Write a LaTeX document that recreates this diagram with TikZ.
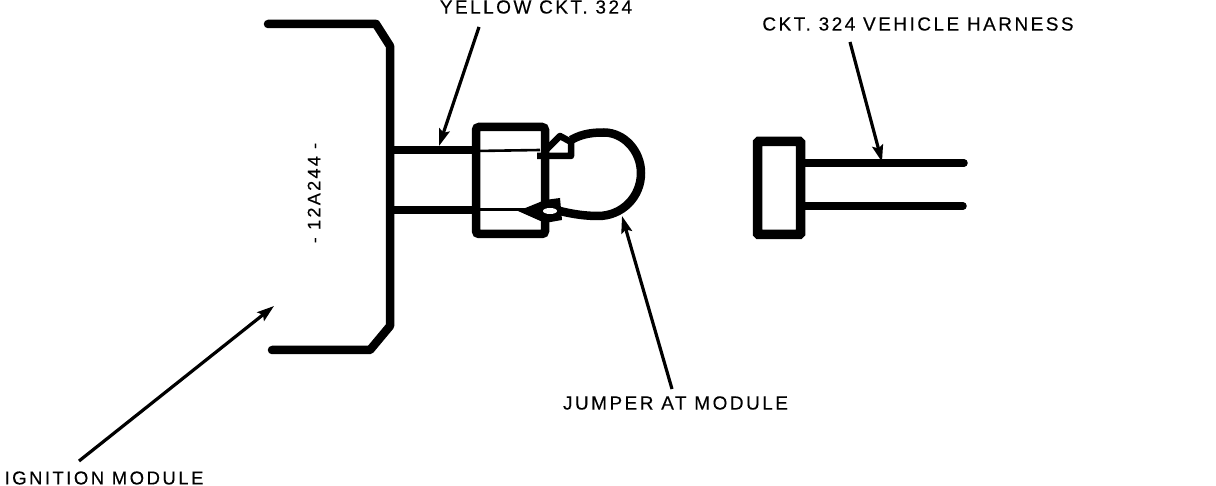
\documentclass[tikz,border=0pt]{standalone}
\usepackage{fontspec}
\setmainfont[LetterSpace=13,FakeBold=0.25]{Liberation Sans}
\usetikzlibrary{arrows.meta}
\tikzset{
  x=1pt,y=-1pt,
  heavy/.style={line width=8.5pt,line join=round,line cap=round},
  wire/.style={line width=7.5pt,line join=round,line cap=round},
  lead/.style={line width=3.2pt,-{Stealth[length=17pt,width=11pt,inset=3pt]}},
  lab/.style={inner sep=0pt,font=\fontsize{19}{19}\selectfont,text=black},
}
\begin{document}
\begin{tikzpicture}
\useasboundingbox (0,0) rectangle (1216,486);
% module housing
\draw[heavy] (268,24) -- (376,24) -- (390,46) -- (390,326) -- (370,350) -- (272,350);
\draw[wire,line cap=butt] (390,150) -- (476,150);
\draw[wire,line cap=butt] (390,210) -- (476,210);
% connector body
\draw[line width=2.6pt] (476,151) -- (540,150);
\draw[line width=2.6pt] (476,209.5) -- (525,209.5);
% terminals
\draw[line width=6.5pt,line join=round] (537,156) -- (571,156) -- (571,142) -- (560,136) -- (545,151);
\fill (518,211) -- (545,200) -- (560,198) -- (562,220) -- (545,223) -- cycle;
% jumper loop
\draw[wire,line width=8.5pt,line cap=butt] (571,140) .. controls (583,133) and (595,132.5) .. (604,132.5)
  .. controls (624,132.5) and (641,151) .. (641,173)
  .. controls (641,197) and (622,216) .. (598,216)
  .. controls (585,216) and (572,214) .. (560,211);
\node[draw,line width=8.5pt,rounded corners=3pt,minimum width=69pt,minimum height=107pt,inner sep=0pt] (plug) at (510.5,180.5) {};
\fill[white] (550,211) ellipse [x radius=7pt,y radius=3pt];
% harness connector
\node[draw,line width=9.5pt,rounded corners=1pt,minimum width=43pt,minimum height=93pt,inner sep=0pt] (socket) at (779,188) {};
\draw[wire] (socket.east |- 0,163) -- (964,163);
\draw[wire] (socket.east |- 0,206) -- (963,206);
% labels
\node[lab] (yellow) at (536,7) {YELLOW CKT. 324};
\node[lab] (harness) at (918,24) {CKT. 324 VEHICLE HARNESS};
\node[lab] (jumper) at (675.5,403) {JUMPER AT MODULE};
\node[lab,font=\fontsize{18.6}{19}\selectfont] (ignition) at (104,478) {IGNITION MODULE};
\node[lab,rotate=90,font=\fontsize{18}{18}\selectfont] (part) at (314,193) {- 12A244 -};
% leaders
\coordinate (a1s) at (479,27); \coordinate (a1e) at (439,146);
\coordinate (a2s) at (850,42); \coordinate (a2e) at (882,162);
\coordinate (a3s) at (672,389); \coordinate (a3e) at (622,216);
\coordinate (a4s) at (79,461); \coordinate (a4e) at (274,306);
\draw[lead] (a1s) -- (a1e);
\draw[lead] (a2s) -- (a2e);
\draw[lead] (a3s) -- (a3e);
\draw[lead] (a4s) -- (a4e);
\end{tikzpicture}
\end{document}
